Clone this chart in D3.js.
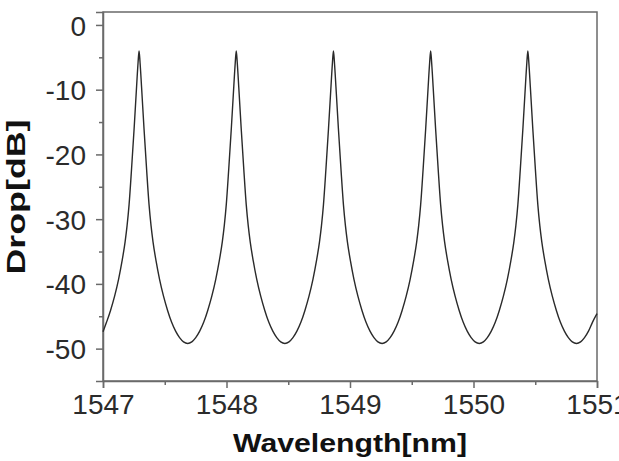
<!DOCTYPE html>
<html lang="en">
<head>
  <meta charset="UTF-8">
  <title>Drop port spectrum</title>
  <script src="https://d3js.org/d3.v7.min.js"></script>
  <style>
    body { margin: 0; background: #fff; }
    svg { display: block; }
    .tick text { font-family: "Liberation Sans", Arial, sans-serif; font-size: 28px; fill: #2b2b2b; }
    .domain, .tick line { stroke: #6a6a6a; stroke-width: 1.5px; }
    .title { font-family: "Liberation Sans", Arial, sans-serif; font-weight: bold; fill: #111; }
  </style>
</head>
<body>
  <svg width="619" height="461"></svg>

  <script>
    const width = 619, height = 461;
    const margin = { top: 12, right: 22, bottom: 80, left: 103 };

    // values
    const wavelengthNm = [
      1547.000, 1547.029, 1547.061, 1547.094, 1547.126, 1547.154, 1547.179, 1547.195, 1547.211, 1547.231, 1547.252, 1547.272, 1547.284, 1547.292,
      1547.300, 1547.312, 1547.332, 1547.353, 1547.373, 1547.389, 1547.405, 1547.430, 1547.458, 1547.490, 1547.523, 1547.555, 1547.588, 1547.620, 1547.652, 1547.686,
      1547.719, 1547.751, 1547.783, 1547.816, 1547.848, 1547.881, 1547.913, 1547.941, 1547.966, 1547.982, 1547.998, 1548.018, 1548.039, 1548.059, 1548.071, 1548.079,
      1548.087, 1548.099, 1548.119, 1548.140, 1548.160, 1548.176, 1548.192, 1548.217, 1548.245, 1548.277, 1548.310, 1548.342, 1548.375, 1548.407, 1548.439, 1548.473,
      1548.506, 1548.538, 1548.570, 1548.603, 1548.635, 1548.668, 1548.700, 1548.728, 1548.753, 1548.769, 1548.785, 1548.805, 1548.826, 1548.846, 1548.858, 1548.866,
      1548.874, 1548.886, 1548.906, 1548.927, 1548.947, 1548.963, 1548.979, 1549.004, 1549.032, 1549.064, 1549.097, 1549.129, 1549.162, 1549.194, 1549.226, 1549.260,
      1549.293, 1549.325, 1549.357, 1549.390, 1549.422, 1549.455, 1549.487, 1549.515, 1549.540, 1549.556, 1549.572, 1549.592, 1549.613, 1549.633, 1549.645, 1549.653,
      1549.661, 1549.673, 1549.693, 1549.714, 1549.734, 1549.750, 1549.766, 1549.791, 1549.819, 1549.851, 1549.884, 1549.916, 1549.949, 1549.981, 1550.013, 1550.047,
      1550.080, 1550.112, 1550.144, 1550.177, 1550.209, 1550.242, 1550.274, 1550.302, 1550.327, 1550.343, 1550.359, 1550.379, 1550.400, 1550.420, 1550.432, 1550.440,
      1550.448, 1550.460, 1550.480, 1550.501, 1550.521, 1550.537, 1550.553, 1550.578, 1550.606, 1550.638, 1550.671, 1550.703, 1550.736, 1550.768, 1550.800, 1550.834,
      1550.867, 1550.899, 1550.931, 1550.964, 1551.000
    ];
    const dropDb = [
      -47.4, -45.9, -44.1, -41.9, -39.3, -36.5, -33.5, -31.0, -27.8, -22.3, -16.0, -9.5, -5.8, -4.0,
      -5.8, -9.5, -16.0, -22.3, -27.8, -31.0, -33.5, -36.5, -39.3, -41.9, -44.1, -45.9, -47.3, -48.3, -48.95, -49.2,
      -48.95, -48.3, -47.3, -45.9, -44.1, -41.9, -39.3, -36.5, -33.5, -31.0, -27.8, -22.3, -16.0, -9.5, -5.8, -4.0,
      -5.8, -9.5, -16.0, -22.3, -27.8, -31.0, -33.5, -36.5, -39.3, -41.9, -44.1, -45.9, -47.3, -48.3, -48.95, -49.2,
      -48.95, -48.3, -47.3, -45.9, -44.1, -41.9, -39.3, -36.5, -33.5, -31.0, -27.8, -22.3, -16.0, -9.5, -5.8, -4.0,
      -5.8, -9.5, -16.0, -22.3, -27.8, -31.0, -33.5, -36.5, -39.3, -41.9, -44.1, -45.9, -47.3, -48.3, -48.95, -49.2,
      -48.95, -48.3, -47.3, -45.9, -44.1, -41.9, -39.3, -36.5, -33.5, -31.0, -27.8, -22.3, -16.0, -9.5, -5.8, -4.0,
      -5.8, -9.5, -16.0, -22.3, -27.8, -31.0, -33.5, -36.5, -39.3, -41.9, -44.1, -45.9, -47.3, -48.3, -48.95, -49.2,
      -48.95, -48.3, -47.3, -45.9, -44.1, -41.9, -39.3, -36.5, -33.5, -31.0, -27.8, -22.3, -16.0, -9.5, -5.8, -4.0,
      -5.8, -9.5, -16.0, -22.3, -27.8, -31.0, -33.5, -36.5, -39.3, -41.9, -44.1, -45.9, -47.3, -48.3, -48.95, -49.2,
      -48.95, -48.3, -47.3, -45.9, -44.6
    ];
    const xTicks = [1547, 1548, 1549, 1550, 1551];
    const xMinorTicks = [1547.5, 1548.5, 1549.5, 1550.5];
    const yTicks = [0, -10, -20, -30, -40, -50];
    const yMinorTicks = [-5, -15, -25, -35, -45];

    const svg = d3.select("svg");

    const x = d3.scaleLinear().domain([1547, 1551]).range([margin.left, width - margin.right]);
    const y = d3.scaleLinear().domain([-55, 2]).range([height - margin.bottom, margin.top]);

    // frame (top and right sides)
    svg.append("rect")
      .attr("x", x(1547)).attr("y", y(2))
      .attr("width", x(1551) - x(1547)).attr("height", y(-55) - y(2))
      .attr("fill", "none").attr("stroke", "#6a6a6a").attr("stroke-width", 1.5);

    // minor ticks
    svg.append("g")
      .attr("transform", `translate(0,${y(-55)})`)
      .call(d3.axisBottom(x).tickValues(xMinorTicks).tickSize(4).tickFormat(""))
      .call(g => g.select(".domain").remove());
    svg.append("g")
      .attr("transform", `translate(${x(1547)},0)`)
      .call(d3.axisLeft(y).tickValues(yMinorTicks).tickSize(4).tickFormat(""))
      .call(g => g.select(".domain").remove());

    // major axes
    svg.append("g")
      .attr("transform", `translate(0,${y(-55)})`)
      .call(d3.axisBottom(x).tickValues(xTicks).tickSize(7).tickPadding(6).tickFormat(d3.format("d")))
      .call(g => g.selectAll("text").attr("font-size", null));
    svg.append("g")
      .attr("transform", `translate(${x(1547)},0)`)
      .call(d3.axisLeft(y).tickValues(yTicks).tickSize(7).tickPadding(10).tickFormat(d => d === 0 ? "0" : "-" + Math.abs(d)))
      .call(g => g.selectAll("text").attr("font-size", null).attr("dy", "0.36em"));

    // spectrum
    const points = wavelengthNm.map((w, i) => [w, dropDb[i]]);
    const line = d3.line()
      .x(d => x(d[0]))
      .y(d => y(d[1]))
      .curve(d3.curveMonotoneX);

    svg.append("path")
      .datum(points)
      .attr("d", line)
      .attr("fill", "none")
      .attr("stroke", "#2a2a2a")
      .attr("stroke-width", 1.4);

    // axis titles
    svg.append("text")
      .attr("class", "title")
      .attr("x", 350).attr("y", 452)
      .attr("text-anchor", "middle")
      .attr("font-size", 26)
      .attr("textLength", 234)
      .attr("lengthAdjust", "spacingAndGlyphs")
      .text("Wavelength[nm]");

    svg.append("text")
      .attr("class", "title")
      .attr("transform", "translate(25,197) rotate(-90)")
      .attr("text-anchor", "middle")
      .attr("font-size", 26)
      .attr("textLength", 155)
      .attr("lengthAdjust", "spacingAndGlyphs")
      .text("Drop[dB]");
  </script>
</body>
</html>
